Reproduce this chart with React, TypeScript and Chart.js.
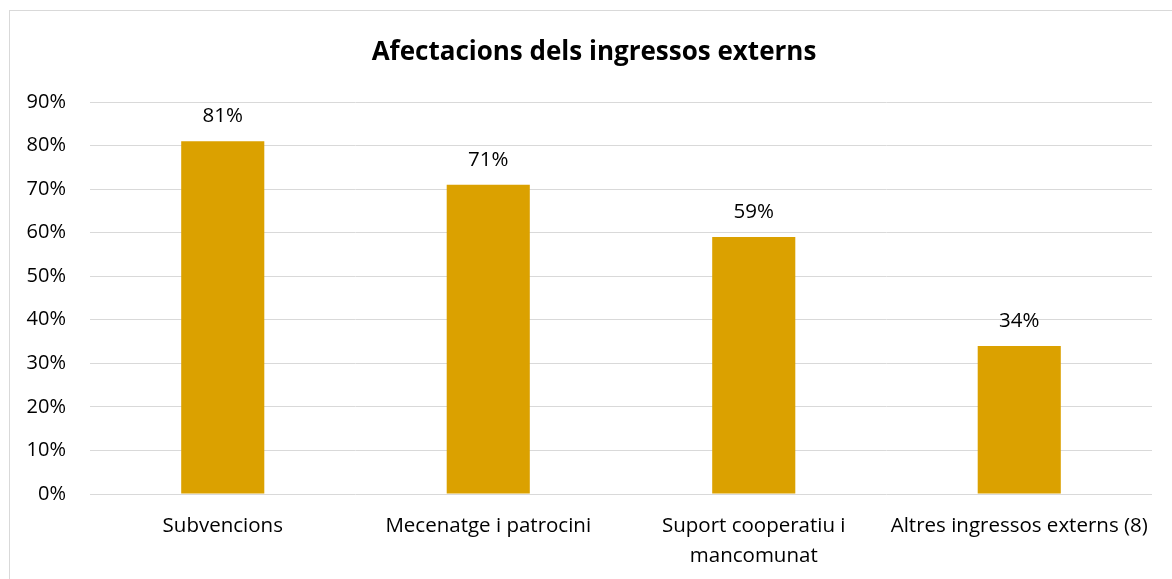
import React, { useEffect, useRef } from "react";
import { Chart, registerables } from "chart.js";

Chart.register(...registerables);

const title = "Afectacions dels ingressos externs";
const categories: (string | string[])[] = [
  "Subvencions",
  "Mecenatge i patrocini",
  ["Suport cooperatiu i", "mancomunat"],
  "Altres ingressos externs (8)",
];
const values = [0.81, 0.71, 0.59, 0.34];
const yTicks = [0, 0.1, 0.2, 0.3, 0.4, 0.5, 0.6, 0.7, 0.8, 0.9];

const FONT = "'Open Sans', 'Noto Sans', sans-serif";

const dataLabels = {
  id: "dataLabels",
  afterDatasetsDraw(chart: any) {
    const ctx = chart.ctx;
    const meta = chart.getDatasetMeta(0);
    ctx.save();
    ctx.font = `20.5px ${FONT}`;
    ctx.fillStyle = "#000000";
    ctx.textAlign = "center";
    ctx.textBaseline = "middle";
    meta.data.forEach((el: any, i: number) => {
      const v = chart.data.datasets[0].data[i] as number;
      ctx.fillText(Math.round(v * 100) + "%", el.x, el.y - 25);
    });
    ctx.restore();
  },
};

const titlePlugin = {
  id: "customTitle",
  afterDraw(chart: any) {
    const ctx = chart.ctx;
    ctx.save();
    ctx.font = `bold 26px ${FONT}`;
    ctx.fillStyle = "#000000";
    ctx.textAlign = "center";
    ctx.textBaseline = "middle";
    ctx.fillText(title, 584, 42);
    ctx.restore();
  },
};

export default function App() {
  const ref = useRef<HTMLCanvasElement | null>(null);
  useEffect(() => {
    document.body.style.overflow = "hidden";
    if (!ref.current) return;
    const chart = new Chart(ref.current, {
      type: "bar",
      data: {
        labels: categories,
        datasets: [
          {
            data: values,
            backgroundColor: "#DBA100",
            borderWidth: 0,
            categoryPercentage: 1,
            barPercentage: 0.313,
          },
        ],
      },
      options: {
        animation: false,
        responsive: false,
        maintainAspectRatio: false,
        layout: { padding: { left: 0, right: 20, top: 91, bottom: 0 } },
        plugins: {
          legend: { display: false },
          tooltip: { enabled: false },
          title: { display: false },
        },
        scales: {
          x: {
            grid: { display: false, drawTicks: false },
            border: { display: false },
            ticks: {
              color: "#000000",
              font: { family: FONT, size: 20.5, lineHeight: 1.42 },
              padding: 18,
              maxRotation: 0,
              autoSkip: false,
            },
            afterFit: (scale: any) => {
              scale.height = 85;
            },
          },
          y: {
            min: 0,
            max: 0.9,
            afterBuildTicks: (scale: any) => {
              scale.ticks = yTicks.map((v) => ({ value: v }));
            },
            grid: { color: "#D9D9D9", lineWidth: 1, drawTicks: false },
            border: { display: false },
            ticks: {
              color: "#000000",
              font: { family: FONT, size: 20 },
              padding: 24,
              callback: (v: any) => Math.round(Number(v) * 100) + "%",
            },
            afterFit: (scale: any) => {
              scale.width = 80;
            },
          },
        },
      },
      plugins: [dataLabels, titlePlugin],
    });
    return () => chart.destroy();
  }, []);

  return (
    <div
      style={{
        position: "absolute",
        left: 9,
        top: 10,
        width: 1163,
        height: 569,
        borderTop: "1px solid #D9D9D9",
        borderLeft: "1px solid #D9D9D9",
        boxSizing: "border-box",
        background: "#fff",
      }}
    >
      <canvas
        ref={ref}
        width={1162}
        height={568}
        style={{ display: "block", width: 1162, height: 568 }}
      />
    </div>
  );
}
